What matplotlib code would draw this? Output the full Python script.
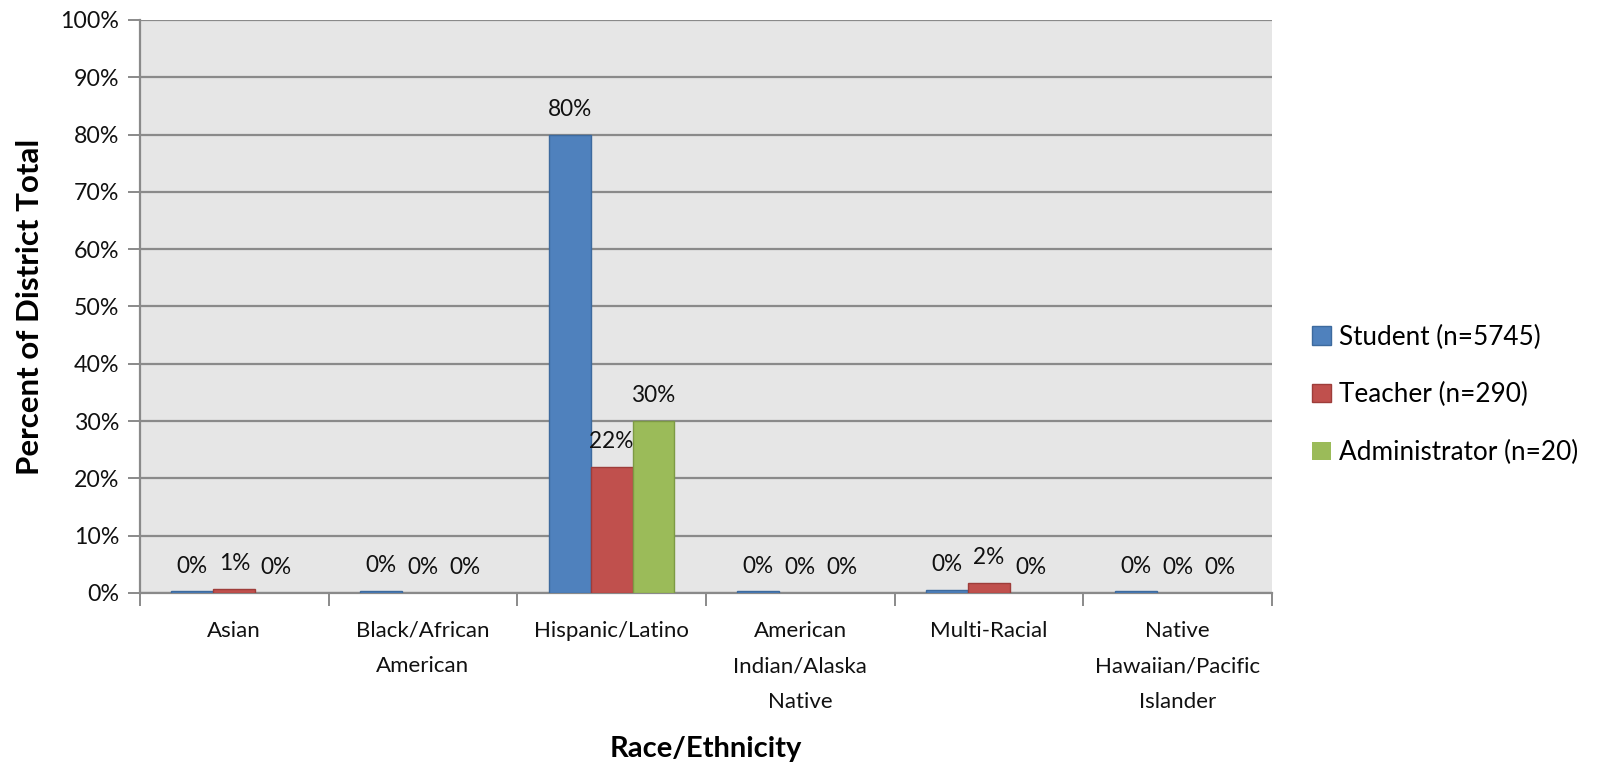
import numpy as np
import matplotlib.pyplot as plt
from matplotlib.ticker import PercentFormatter, FixedLocator, NullFormatter

plt.rcParams['font.family'] = ['Lato', 'DejaVu Sans']

groups = ["Asian", "Black/African\nAmerican", "Hispanic/Latino",
          "American\nIndian/Alaska\nNative", "Multi-Racial",
          "Native\nHawaiian/Pacific\nIslander"]
student = [0.3, 0.4, 80.0, 0.3, 0.5, 0.3]
teacher = [0.7, 0.0, 22.0, 0.0, 1.7, 0.0]
admin = [0.0, 0.0, 30.0, 0.0, 0.0, 0.0]
series_names = ["Student (n=5745)", "Teacher (n=290)", "Administrator (n=20)"]
colors = ["#4f81bd", "#c0504d", "#9bbb59"]
edges = ["#3d6a9e", "#9e3d3a", "#7d9a44"]

fig = plt.figure(figsize=(16.07, 7.68), dpi=100)
ax = fig.add_axes([0.0871, 0.2279, 0.7044, 0.7461])
ax.set_facecolor("#e6e6e6")

x = np.arange(len(groups))
w = 0.222
for k, vals in enumerate([student, teacher, admin]):
    b = ax.bar(x + (k - 1) * w, vals, w, color=colors[k], edgecolor=edges[k],
               linewidth=1, label=series_names[k], zorder=3)
    for rect, v in zip(b, vals):
        if v == 0:
            rect.set_linewidth(0)
        ax.annotate("{:.0f}%".format(v), (rect.get_x() + rect.get_width() / 2, v),
                    xytext=(0, 13.5), textcoords="offset points",
                    ha="center", va="baseline", fontsize=16.3, color="#111111",
                    zorder=4)

ax.set_xlim(-0.5, len(groups) - 0.5)
ax.set_ylim(0, 100)
ax.set_yticks(np.arange(0, 101, 10))
ax.yaxis.set_major_formatter(PercentFormatter(decimals=0))
ax.grid(axis="y", color="#8a8a8a", linewidth=1.6, zorder=0)
ax.set_axisbelow(True)

# category boundaries as major ticks, labels centered on minor ticks
ax.xaxis.set_major_locator(FixedLocator(np.arange(-0.5, len(groups), 1.0)))
ax.xaxis.set_major_formatter(NullFormatter())
ax.xaxis.set_minor_locator(FixedLocator(x))
ax.set_xticklabels(groups, minor=True, fontsize=16, color="#111111",
                   linespacing=1.98, va="top")
ax.tick_params(axis="x", which="major", length=9, width=1.4, color="#8a8a8a")
ax.tick_params(axis="x", which="minor", length=0, pad=20)
ax.tick_params(axis="y", length=9, width=1.4, color="#8a8a8a",
               labelsize=16.7, labelcolor="#111111", pad=6)

for s in ["top", "right"]:
    ax.spines[s].set_visible(False)
for s in ["left", "bottom"]:
    ax.spines[s].set_color("#8a8a8a")
    ax.spines[s].set_linewidth(1.6)

ax.set_ylabel("Percent of District Total", fontsize=22.5, fontweight="bold",
              labelpad=12)
ax.set_xlabel("Race/Ethnicity", fontsize=21, fontweight="bold", labelpad=17)

leg = ax.legend(loc="center left", bbox_to_anchor=(1.015, 0.346), frameon=False,
                fontsize=18.8, handlelength=0.7, handleheight=0.7,
                handletextpad=0.3, labelspacing=1.25)

fig.savefig("out.png", dpi=100)
